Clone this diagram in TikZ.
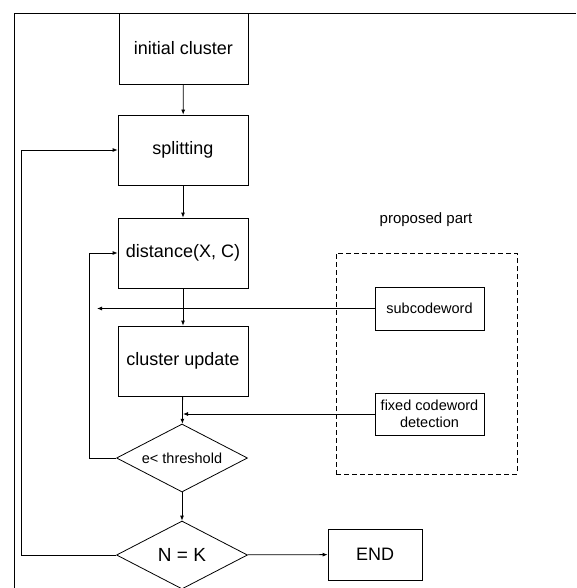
\documentclass[tikz,border=0pt]{standalone}
\usepackage{fontspec}
\setmainfont{Liberation Sans}
\usetikzlibrary{shapes.geometric,arrows.meta}
\begin{document}
\begin{tikzpicture}[x=1pt,y=-1pt,
  line width=0.8pt,
  box/.style={draw, rectangle, inner sep=0pt, align=center},
  dia/.style={draw, diamond, inner sep=0pt, aspect=1.93, minimum width=131pt, minimum height=68pt},
  big/.style={font=\fontsize{18}{20}\selectfont},
  small/.style={font=\fontsize{14.5}{17}\selectfont},
  arr/.style={-{Latex[length=5pt,width=4pt]}}]
\useasboundingbox (0,0) rectangle (576,588);
% outer frame (partial)
\draw (576,13) -- (14,13) -- (14,588);
% main flow
\node[box,big,minimum width=129pt,minimum height=71pt] (init) at (183.5,48.5) {initial cluster};
\node[box,big,minimum width=130pt,minimum height=70pt] (split) at (183,150) {splitting};
\node[box,big,minimum width=130pt,minimum height=70pt] (dist) at (183,253) {distance(X, C)};
\node[box,big,minimum width=130pt,minimum height=70pt] (upd) at (183,361) {cluster update};
\node[dia,small] (thr) at (182,458) {e< threshold};
\node[dia,font=\fontsize{19}{21}\selectfont] (nk) at (182,555) {N = K};
\node[box,big,minimum width=94pt,minimum height=51pt] (end) at (375,554.5) {END};
% proposed part
\node[draw,dashed,dash pattern=on 5pt off 3pt,minimum width=181pt,minimum height=221pt,inner sep=0pt] (prop) at (426.5,363.5) {};
\node[font=\fontsize{15}{17}\selectfont] (plabel) at (426,220) {proposed part};
\node[box,small,minimum width=109pt,minimum height=43pt] (sub) at (429.5,308.5) {subcodeword};
\node[box,small,minimum width=109pt,minimum height=42pt] (fix) at (429.5,414) {fixed codeword\\detection};
% helper coordinates
\coordinate (lx1) at (89,0);
\coordinate (lx2) at (21,0);
\coordinate (sx) at (97,0);
% connectors
\draw[arr] (init) -- (split);
\draw[arr] (split) -- (dist);
\draw[arr] (dist) -- (upd);
\draw[arr] (upd) -- (thr);
\draw[arr] (thr) -- (nk);
\draw[arr] (nk) -- (end);
\draw[arr] (thr.west) -- (thr.west -| lx1) |- (dist.west);
\draw[arr] (nk.west) -- (nk.west -| lx2) |- (split.west);
\draw[arr] (sub.west) -- (sub.west -| sx);
\draw[arr] (fix.west) -- (fix.west -| upd.south);
\end{tikzpicture}
\end{document}
